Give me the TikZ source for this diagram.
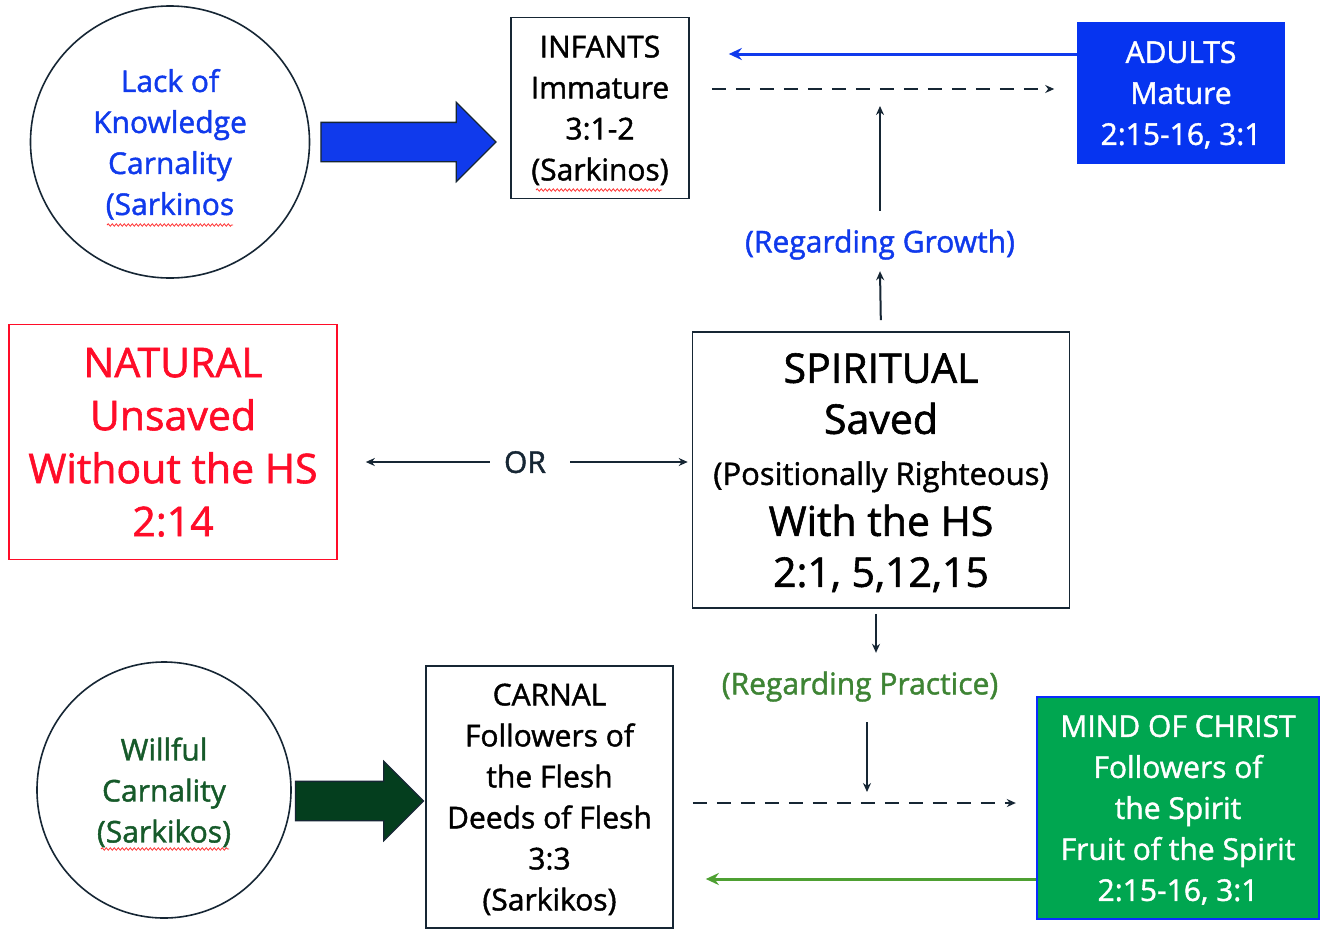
\documentclass[tikz,border=0pt]{standalone}
\usepackage{fontspec}
\setmainfont{Open Sans}[FakeBold=1.4]
\usetikzlibrary{arrows.meta,shapes.geometric,shapes.arrows,decorations.pathmorphing}
\definecolor{navy}{RGB}{22,38,52}
\definecolor{hsblue}{RGB}{16,58,236}
\definecolor{adultblue}{RGB}{6,52,240}
\definecolor{hsred}{RGB}{255,12,40}
\definecolor{mindgreen}{RGB}{0,166,80}
\definecolor{mindedge}{RGB}{10,44,255}
\definecolor{practgreen}{RGB}{62,132,52}
\definecolor{fruitgreen}{RGB}{78,160,50}
\definecolor{willgreen}{RGB}{22,90,42}
\definecolor{deepgreen}{RGB}{4,62,30}

\begin{document}
\begin{tikzpicture}[x=1pt,y=-1pt,
	txt/.style={font=\fontsize{30}{41}\selectfont,text depth=0pt},
	bigtxt/.style={font=\fontsize{41}{53}\selectfont},
	box/.style={draw=navy,line width=1.6pt,inner sep=0pt,align=center,txt},
	ring/.style={ellipse,draw=navy,line width=1.6pt,inner sep=0pt,align=center,txt},
	fatarrow/.style={single arrow,draw=navy,line width=1.3pt,inner xsep=0pt,inner ysep=19pt,
		single arrow head extend=20pt,minimum height=#1,anchor=tail},
	arr/.style={-{Stealth[length=9pt,width=8pt]},draw=navy,line width=2pt},
	bigarr/.style={-{Stealth[length=13pt,width=12pt]},line width=3pt},
	dasharr/.style={arr,line width=2.8pt,dash pattern=on 14pt off 10pt},
	lbl/.style={txt,inner sep=0pt,minimum height=60pt},
	squiggle/.style={draw=red!80!white,line width=0.8pt,decorate,
		decoration={snake,amplitude=1.2pt,segment length=4pt}}]
	
	\path[use as bounding box,fill=white] (0,0) rectangle (1320,930);
	
	\node[ring,text=hsblue,minimum width=279pt,minimum height=272pt] (lack) at (170,142) {Lack of\\Knowledge\\Carnality\\(Sarkinos};
	\node[box,minimum width=178pt,minimum height=181pt] (infants) at (600,108) {INFANTS\\Immature\\3:1-2\\(Sarkinos)};
	\node[box,draw=adultblue,fill=adultblue,text=white,minimum width=206pt,minimum height=141pt] (adults) at (1181,93) {ADULTS\\Mature\\2:15-16, 3:1};
	
	\node[box,bigtxt,draw=hsred,text=hsred,minimum width=328pt,minimum height=235pt] (natural) at (173,442) {NATURAL\\Unsaved\\Without the HS\\2:14};
	\node[box,font=\fontsize{41}{51}\selectfont,minimum width=377pt,minimum height=276pt] (spiritual) at (881,470) {SPIRITUAL\\Saved\\{\fontsize{31}{41}\selectfont(Positionally Righteous)}\\With the HS\\2:1, 5,12,15};
	
	\node[ring,text=willgreen,minimum width=254pt,minimum height=256pt] (willful) at (164,790) {Willful\\Carnality\\(Sarkikos)};
	\node[box,minimum width=247pt,minimum height=262pt] (carnal) at (549.5,797) {CARNAL\\Followers of\\the Flesh\\Deeds of Flesh\\3:3\\(Sarkikos)};
	\node[box,draw=mindedge,fill=mindgreen,text=white,line width=2.4pt,minimum width=282pt,minimum height=222pt] (mind) at (1178,808) {MIND OF CHRIST\\Followers of\\the Spirit\\Fruit of the Spirit\\2:15-16, 3:1};
	
	\node[lbl,text=hsblue] (growth) at (880,241) {(Regarding Growth)};
	\node[lbl,text=practgreen] (practice) at (860,683) {(Regarding Practice)};
	\node[txt,inner sep=0pt,text=navy] (orlbl) at (525,462) {OR};
	
	\node[fatarrow=175pt,fill=hsblue] (toinfants) at ([xshift=10pt]lack.east) {};
	\node[fatarrow=128pt,fill=deepgreen] (tocarnal) at ([shift={(3pt,-11pt)}]willful.east) {};
	
	\coordinate (solidstart) at ([yshift=39pt]adults.west);
	\coordinate (dashstart) at ([shift={(22pt,19pt)}]infants.east);
	\draw[bigarr,draw=hsblue,shorten >=39pt] (solidstart) -- (solidstart -| infants.east);
	\draw[dasharr,shorten >=23pt] (dashstart) -- (dashstart -| adults.west);
	\draw[arr,shorten <=11pt] (spiritual.north) -- (growth.south);
	\draw[arr,shorten >=17pt] (growth.north) -- (growth.north |- dashstart);
	
	\draw[arr,shorten >=28pt] ([xshift=-14pt]orlbl.west) -- (orlbl.west -| natural.east);
	\draw[arr,shorten >=4pt] ([xshift=24pt]orlbl.east) -- (orlbl.east -| spiritual.west);
	
	\coordinate (dashtwo) at ([shift={(19pt,-6pt)}]carnal.east);
	\coordinate (fruitstart) at ([yshift=-71pt]mind.west);
	\draw[arr,shorten <=5pt] ([xshift=-5pt]spiritual.south) -- ([xshift=-5pt]spiritual.south |- practice.north);
	\draw[arr,shorten <=9pt,shorten >=11pt] ([xshift=7pt]practice.south) -- ([xshift=7pt]practice.south |- dashtwo);
	\draw[dasharr,shorten >=20pt] (dashtwo) -- (dashtwo -| mind.west);
	\draw[bigarr,draw=fruitgreen,shorten >=32pt] (fruitstart) -- (fruitstart -| carnal.east);
	
	\draw[squiggle] (107,225) -- (233,225);
	\draw[squiggle] (536,190) -- (662,190);
	\draw[squiggle] (101,849) -- (229,849);
	
\end{tikzpicture}
\end{document}
